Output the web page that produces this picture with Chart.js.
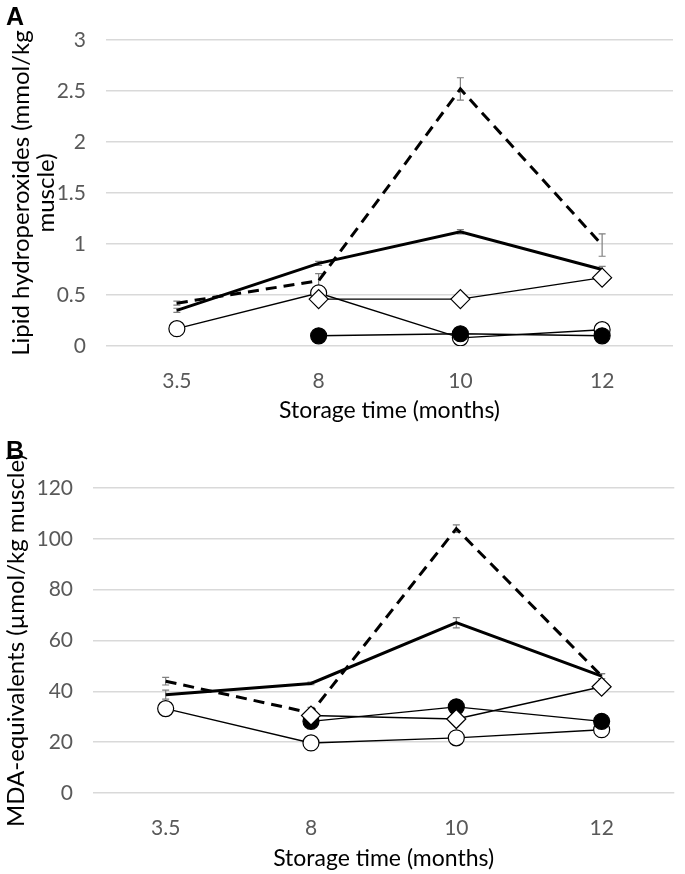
<!DOCTYPE html>
<html>
<head>
<meta charset="utf-8">
<script src="https://cdn.jsdelivr.net/npm/chart.js@4.4.1/dist/chart.umd.min.js"></script>
<style>
  html, body { margin: 0; padding: 0; background: #fff; }
  body { width: 685px; height: 874px; position: relative; overflow: hidden; }
  canvas { position: absolute; left: 0; }
  .tag { position: absolute; left: 6px; font: bold 25px "Liberation Sans", Arial, sans-serif; color: #000; z-index: 2; }
</style>
</head>
<body>
<canvas id="chartA" style="top:0" width="685" height="426"></canvas>
<canvas id="chartB" style="top:430px" width="685" height="444"></canvas>
<div class="tag" style="top:2px">A</div>
<div class="tag" style="top:436px">B</div>
<script>
const months = ["3.5", "8", "10", "12"];

// panel A - lipid hydroperoxides (mmol/kg muscle)
const hpoDashed = [0.42, 0.64, 2.52, 0.99];
const hpoDashedErr = [0.02, 0.07, 0.11, 0.11];
const hpoSolid = [0.35, 0.81, 1.12, 0.75];
const hpoSolidErr = [0.02, 0.02, 0.02, 0.03];
const hpoDiamond = [null, 0.46, 0.46, 0.67];
const hpoOpen = [0.17, 0.52, 0.08, 0.16];
const hpoFilled = [null, 0.10, 0.12, 0.10];

// panel B - MDA equivalents (umol/kg muscle)
const mdaDashed = [44.0, 31.5, 104.0, 46.0];
const mdaDashedErr = [1.5, 2.2, 1.5, 1.0];
const mdaSolid = [38.7, 43.1, 67.0, 46.0];
const mdaSolidErr = [1.8, 0.5, 2.0, 1.0];
const mdaDiamond = [null, 30.5, 29.1, 41.8];
const mdaOpen = [33.2, 19.7, 21.7, 24.9];
const mdaFilled = [null, 28.2, 33.9, 28.2];

const FONT = "Lato";

// gray error bars with caps, drawn under the lines
const errorBars = {
  id: "errorBars",
  beforeDatasetsDraw(chart) {
    const ctx = chart.ctx;
    const yScale = chart.scales.y;
    ctx.save();
    ctx.strokeStyle = "#7f7f7f";
    ctx.lineWidth = 1.2;
    chart.data.datasets.forEach((ds, i) => {
      if (!ds.errors) return;
      const meta = chart.getDatasetMeta(i);
      meta.data.forEach((pt, j) => {
        const v = ds.data[j];
        const e = ds.errors[j];
        if (v == null || !e) return;
        const top = yScale.getPixelForValue(v + e);
        const bot = yScale.getPixelForValue(v - e);
        ctx.beginPath();
        ctx.moveTo(pt.x, top);
        ctx.lineTo(pt.x, bot);
        ctx.moveTo(pt.x - 3.5, top);
        ctx.lineTo(pt.x + 3.5, top);
        ctx.moveTo(pt.x - 3.5, bot);
        ctx.lineTo(pt.x + 3.5, bot);
        ctx.stroke();
      });
    });
    ctx.restore();
  }
};

function thickLine(data, errors, dashed) {
  return {
    data: data,
    errors: errors,
    borderColor: "#000",
    borderWidth: 3,
    borderDash: dashed ? [11, 7] : [],
    borderJoinStyle: "miter",
    pointRadius: 0,
    fill: false,
    tension: 0,
    order: 5
  };
}

function markerLine(data, style, fillColor, order) {
  return {
    data: data,
    borderColor: "#000",
    borderWidth: 1.4,
    pointStyle: style,
    pointRadius: style === "rectRot" ? 9.5 : 8,
    pointBorderWidth: 1.2,
    pointBackgroundColor: fillColor,
    pointBorderColor: "#000",
    fill: false,
    tension: 0,
    order: order
  };
}

function makePanel(id, cfg) {
  new Chart(document.getElementById(id), {
    type: "line",
    data: {
      labels: months,
      datasets: [
        thickLine(cfg.dashed, cfg.dashedErr, true),
        thickLine(cfg.solid, cfg.solidErr, false),
        markerLine(cfg.open, "circle", "#fff", 4),
        markerLine(cfg.filled, "circle", "#000", 3),
        markerLine(cfg.diamond, "rectRot", "#fff", 2)
      ]
    },
    options: {
      responsive: false,
      animation: false,
      layout: { padding: { top: cfg.padTop, right: cfg.padRight, left: 0, bottom: 0 } },
      plugins: { legend: { display: false }, tooltip: { enabled: false } },
      scales: {
        x: {
          offset: true,
          grid: { display: false, drawTicks: false },
          border: { display: false },
          ticks: { color: "#595959", padding: 23, font: { family: FONT, size: 21 } },
          title: {
            display: true,
            text: "Storage time (months)",
            color: "#000",
            padding: { top: 0, bottom: 2 },
            font: { family: FONT, size: 23 }
          },
          afterFit(scale) { scale.height = cfg.xHeight; }
        },
        y: {
          min: 0,
          max: cfg.yMax,
          grid: { color: "#d9d9d9", lineWidth: 1.5, drawTicks: false },
          border: { display: false },
          ticks: {
            stepSize: cfg.step,
            color: "#595959",
            padding: 20,
            font: { family: FONT, size: 21 },
            callback: (v) => String(Number(v.toFixed(2)))
          },
          title: {
            display: true,
            text: cfg.yTitle,
            color: "#000",
            padding: { top: cfg.titlePad, bottom: 0 },
            font: { family: FONT, size: cfg.titleSize, lineHeight: cfg.titleLh }
          },
          afterFit(scale) { scale.width = cfg.yWidth; }
        }
      }
    },
    plugins: [errorBars]
  });
}

makePanel("chartA", {
  dashed: hpoDashed, dashedErr: hpoDashedErr,
  solid: hpoSolid, solidErr: hpoSolidErr,
  open: hpoOpen, filled: hpoFilled, diamond: hpoDiamond,
  yMax: 3, step: 0.5,
  yTitle: ["Lipid hydroperoxides (mmol/kg", "muscle)"],
  titleSize: 24, titleLh: 1.06, titlePad: 8.5,
  padTop: 40, padRight: 12, yWidth: 106, xHeight: 80
});

makePanel("chartB", {
  dashed: mdaDashed, dashedErr: mdaDashedErr,
  solid: mdaSolid, solidErr: mdaSolidErr,
  open: mdaOpen, filled: mdaFilled, diamond: mdaDiamond,
  yMax: 120, step: 20,
  yTitle: "MDA-equivalents (\u00b5mol/kg muscle)",
  titleSize: 24, titleLh: 1.1, titlePad: 3,
  padTop: 58, padRight: 0, yWidth: 93, xHeight: 81
});
</script>
</body>
</html>
